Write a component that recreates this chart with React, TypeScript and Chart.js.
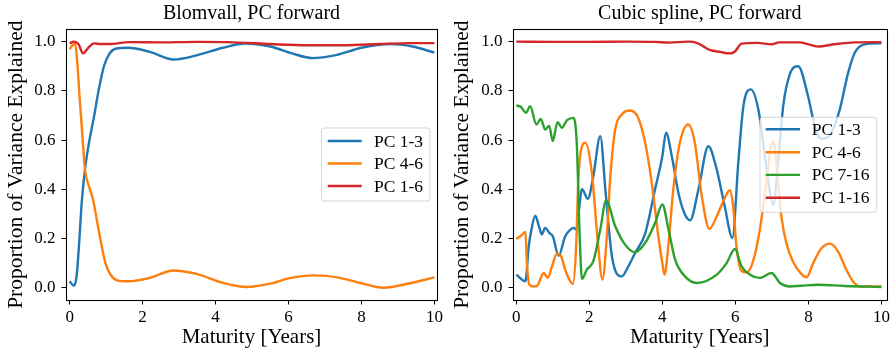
import React, { useEffect, useRef } from "react";
import { Chart, registerables } from "chart.js";

Chart.register(...registerables);

const FONT = "'Liberation Serif', 'DejaVu Serif', serif";

// ---------- Left panel: Blomvall, PC forward ----------
const leftTitle = "Blomvall, PC forward";
const blomPC13X = [0, 0.12, 0.19, 0.26, 0.33, 0.42, 0.53, 0.67, 0.8, 0.94, 1.08, 1.26, 1.6, 2.2, 2.85, 3.5, 4.2, 4.8, 5.5, 6.1, 6.65, 7.3, 8.0, 8.8, 9.4, 10];
const blomPC13Y = [0.026, 0.008, 0.046, 0.18, 0.345, 0.48, 0.589, 0.697, 0.806, 0.9, 0.948, 0.971, 0.975, 0.958, 0.927, 0.945, 0.975, 0.992, 0.98, 0.952, 0.933, 0.945, 0.975, 0.99, 0.98, 0.955];
const blomPC46X = [0, 0.08, 0.15, 0.21, 0.27, 0.35, 0.42, 0.53, 0.64, 0.76, 0.88, 0.98, 1.12, 1.3, 1.62, 2.2, 2.85, 3.5, 4.2, 4.85, 5.6, 6.0, 6.7, 7.4, 8.0, 8.6, 9.3, 10];
const blomPC46Y = [0.969, 0.985, 0.993, 0.914, 0.78, 0.616, 0.48, 0.412, 0.358, 0.263, 0.168, 0.1, 0.053, 0.03, 0.026, 0.04, 0.07, 0.055, 0.02, 0.003, 0.02, 0.038, 0.05, 0.04, 0.018, 0.0, 0.017, 0.042];
const blomPC16X = [0, 0.12, 0.24, 0.37, 0.51, 0.67, 0.85, 1.1, 1.62, 2.5, 3.5, 4.5, 5.5, 6.5, 7.5, 8.5, 9.3, 10];
const blomPC16Y = [0.993, 1.0, 0.99, 0.952, 0.975, 0.993, 0.99, 0.99, 0.998, 0.997, 0.999, 0.997, 0.99, 0.985, 0.985, 0.99, 0.994, 0.994];

// ---------- Right panel: Cubic spline, PC forward ----------
const rightTitle = "Cubic spline, PC forward";
const splPC13X = [0, 0.25, 0.34, 0.42, 0.52, 0.62, 0.7, 0.79, 0.91, 1.0, 1.16, 1.34, 1.48, 1.57, 1.64, 1.8, 1.96, 2.11, 2.3, 2.45, 2.62, 2.89, 3.07, 3.25, 3.53, 3.8, 4.0, 4.1, 4.26, 4.44, 4.62, 4.76, 4.99, 5.26, 5.49, 5.71, 5.92, 6.08, 6.22, 6.42, 6.63, 6.81, 6.95, 7.04, 7.17, 7.31, 7.49, 7.72, 7.99, 8.13, 8.27, 8.4, 8.63, 8.86, 9.09, 9.27, 9.54, 10];
const splPC13Y = [0.053, 0.026, 0.168, 0.24, 0.293, 0.25, 0.216, 0.243, 0.222, 0.209, 0.13, 0.209, 0.236, 0.243, 0.236, 0.4, 0.361, 0.453, 0.616, 0.38, 0.127, 0.046, 0.087, 0.14, 0.22, 0.4, 0.534, 0.63, 0.534, 0.385, 0.297, 0.274, 0.4, 0.575, 0.48, 0.33, 0.202, 0.507, 0.738, 0.806, 0.724, 0.534, 0.385, 0.338, 0.507, 0.738, 0.867, 0.9, 0.779, 0.684, 0.616, 0.605, 0.63, 0.724, 0.874, 0.955, 0.989, 0.993];
const splPC46X = [0, 0.12, 0.25, 0.29, 0.36, 0.47, 0.57, 0.75, 0.86, 0.98, 1.11, 1.22, 1.34, 1.48, 1.55, 1.64, 1.7, 1.8, 1.89, 2.07, 2.22, 2.36, 2.48, 2.57, 2.71, 2.89, 3.12, 3.34, 3.53, 3.71, 3.89, 4.0, 4.06, 4.17, 4.3, 4.48, 4.71, 4.89, 5.08, 5.29, 5.49, 5.71, 5.85, 5.94, 6.03, 6.15, 6.31, 6.49, 6.67, 6.86, 6.96, 7.04, 7.14, 7.26, 7.4, 7.58, 7.81, 7.95, 8.13, 8.36, 8.59, 8.81, 9.04, 9.22, 9.41, 10];
const splPC46Y = [0.198, 0.21, 0.227, 0.1, 0.012, 0.005, 0.007, 0.06, 0.04, 0.087, 0.138, 0.13, 0.073, 0.026, 0.015, 0.168, 0.44, 0.575, 0.589, 0.467, 0.209, 0.033, 0.209, 0.44, 0.643, 0.704, 0.72, 0.69, 0.589, 0.426, 0.209, 0.1, 0.053, 0.18, 0.4, 0.589, 0.663, 0.589, 0.372, 0.239, 0.29, 0.365, 0.396, 0.33, 0.168, 0.073, 0.062, 0.11, 0.236, 0.44, 0.56, 0.596, 0.48, 0.29, 0.18, 0.105, 0.055, 0.042, 0.1, 0.16, 0.179, 0.148, 0.073, 0.026, 0.005, 0.005];
const splPC716X = [0, 0.12, 0.27, 0.38, 0.55, 0.67, 0.79, 0.9, 1.0, 1.13, 1.25, 1.39, 1.57, 1.66, 1.73, 1.8, 1.93, 2.11, 2.3, 2.46, 2.71, 2.98, 3.25, 3.53, 3.8, 4.0, 4.17, 4.35, 4.62, 4.95, 5.49, 5.76, 5.99, 6.17, 6.4, 6.67, 6.99, 7.22, 7.49, 7.8, 8.27, 9.0, 10];
const splPC716Y = [0.741, 0.735, 0.711, 0.738, 0.663, 0.686, 0.643, 0.657, 0.596, 0.673, 0.65, 0.681, 0.69, 0.575, 0.236, 0.035, 0.073, 0.108, 0.236, 0.355, 0.25, 0.175, 0.144, 0.182, 0.263, 0.338, 0.236, 0.114, 0.046, 0.019, 0.053, 0.1, 0.157, 0.087, 0.053, 0.04, 0.06, 0.019, 0.005, 0.008, 0.012, 0.007, 0.003];
const splPC116X = [0, 1, 2, 3, 3.8, 4.2, 4.7, 4.85, 5.03, 5.3, 5.58, 5.85, 5.99, 6.17, 6.6, 6.99, 7.2, 7.77, 7.9, 8.27, 8.72, 9.27, 10];
const splPC116Y = [1.0, 0.999, 0.999, 1.0, 0.999, 0.996, 1.0, 0.999, 0.989, 0.966, 0.958, 0.952, 0.96, 0.992, 0.995, 0.989, 0.997, 0.997, 0.993, 0.98, 0.989, 0.997, 0.998];

const xTicks = [0, 2, 4, 6, 8, 10];
const yTicks = [0, 0.2, 0.4, 0.6, 0.8, 1.0];
const xLabel = "Maturity [Years]";
const yLabel = "Proportion of Variance Explained";

const BLUE = "#1f77b4";
const ORANGE = "#ff7f0e";
const GREEN = "#2ca02c";
const RED = "#d62728";

type Series = { label: string; color: string; xs: number[]; ys: number[] };

type PanelProps = {
  title: string;
  series: Series[];
  width: number;
  left: number;
  yAxisWidth: number;
  padRight: number;
  xMin: number;
  xMax: number;
  legend: { x: number; y: number; w: number; h: number; l0: number; l1: number; tx: number; rows: number[] };
};

function Panel(p: PanelProps) {
  const ref = useRef<HTMLCanvasElement | null>(null);
  useEffect(() => {
    const canvas = ref.current;
    if (!canvas) return;
    const framePlugin = {
      id: "frame",
      afterDatasetsDraw(chart: any) {
        const { ctx, chartArea: a } = chart;
        ctx.save();
        ctx.strokeStyle = "#000";
        ctx.lineWidth = 1.1;
        ctx.strokeRect(Math.round(a.left) + 0.5, Math.round(a.top) + 0.5, Math.round(a.right - a.left), Math.round(a.bottom - a.top));
        ctx.restore();
      },
    };
    const legendPlugin = {
      id: "boxLegend",
      afterDatasetsDraw(chart: any) {
        const ctx = chart.ctx;
        const L = p.legend;
        ctx.save();
        const r = 3;
        ctx.beginPath();
        ctx.moveTo(L.x + r, L.y);
        ctx.lineTo(L.x + L.w - r, L.y);
        ctx.arcTo(L.x + L.w, L.y, L.x + L.w, L.y + r, r);
        ctx.lineTo(L.x + L.w, L.y + L.h - r);
        ctx.arcTo(L.x + L.w, L.y + L.h, L.x + L.w - r, L.y + L.h, r);
        ctx.lineTo(L.x + r, L.y + L.h);
        ctx.arcTo(L.x, L.y + L.h, L.x, L.y + L.h - r, r);
        ctx.lineTo(L.x, L.y + r);
        ctx.arcTo(L.x, L.y, L.x + r, L.y, r);
        ctx.closePath();
        ctx.fillStyle = "rgba(255,255,255,0.8)";
        ctx.fill();
        ctx.strokeStyle = "rgba(204,204,204,0.8)";
        ctx.lineWidth = 1;
        ctx.stroke();
        ctx.font = `17.5px ${FONT}`;
        ctx.textBaseline = "middle";
        ctx.textAlign = "left";
        p.series.forEach((s, i) => {
          const y = L.rows[i];
          ctx.beginPath();
          ctx.moveTo(L.l0, y);
          ctx.lineTo(L.l1, y);
          ctx.strokeStyle = s.color;
          ctx.lineWidth = 2.4;
          ctx.stroke();
          ctx.fillStyle = "#000";
          ctx.fillText(s.label, L.tx, y + 1);
        });
        ctx.restore();
      },
    };
    const n = p.series.length;
    const chart = new Chart(canvas, {
      type: "line",
      data: {
        datasets: p.series.map((s, i) => ({
          label: s.label,
          data: s.xs.map((x, j) => ({ x, y: s.ys[j] })),
          borderColor: s.color,
          backgroundColor: s.color,
          borderWidth: 2.4,
          pointRadius: 0,
          fill: false,
          cubicInterpolationMode: "monotone" as const,
          order: n - i,
        })),
      },
      options: {
        animation: false,
        responsive: false,
        devicePixelRatio: 1,
        layout: { padding: { left: 0, right: p.padRight, top: 0, bottom: 0 } },
        plugins: {
          legend: { display: false },
          tooltip: { enabled: false },
          title: {
            display: true,
            fullSize: false,
            text: p.title,
            color: "#000",
            font: { family: FONT, size: 20, weight: "normal", lineHeight: 1.2 },
            padding: { top: 2, bottom: 3.3 },
          },
        },
        scales: {
          x: {
            type: "linear",
            min: p.xMin,
            max: p.xMax,
            afterBuildTicks: (s: any) => {
              s.ticks = xTicks.map((v) => ({ value: v }));
            },
            afterFit: (s: any) => {
              s.height = 54;
            },
            ticks: {
              color: "#000",
              font: { family: FONT, size: 17 },
              padding: 3,
              maxRotation: 0,
              autoSkip: false,
              callback: (v: any) => String(v),
            },
            grid: { drawOnChartArea: false, drawTicks: true, tickLength: 4.5, tickColor: "#000", tickWidth: 1 },
            border: { display: false },
            title: {
              display: true,
              text: xLabel,
              color: "#000",
              font: { family: FONT, size: 21, lineHeight: 1.2 },
              padding: { top: 0, bottom: 3.5 },
            },
          },
          y: {
            type: "linear",
            min: -0.05,
            max: 1.05,
            afterBuildTicks: (s: any) => {
              s.ticks = yTicks.map((v) => ({ value: v }));
            },
            afterFit: (s: any) => {
              s.width = p.yAxisWidth;
            },
            ticks: {
              color: "#000",
              font: { family: FONT, size: 17 },
              padding: 6,
              callback: (v: any) => Number(v).toFixed(1),
            },
            grid: { drawOnChartArea: false, drawTicks: true, tickLength: 4.5, tickColor: "#000", tickWidth: 1 },
            border: { display: false },
            title: {
              display: true,
              text: yLabel,
              color: "#000",
              font: { family: FONT, size: 21.5, lineHeight: 1.2 },
              padding: { top: 3, bottom: 0 },
            },
          },
        },
      },
      plugins: [framePlugin, legendPlugin],
    } as any);
    return () => chart.destroy();
  }, []);
  return (
    <canvas
      ref={ref}
      width={p.width}
      height={354}
      style={{ position: "absolute", left: p.left, top: 0, width: p.width, height: 354 }}
    />
  );
}

export default function App() {
  const leftSeries: Series[] = [
    { label: "PC 1-3", color: BLUE, xs: blomPC13X, ys: blomPC13Y },
    { label: "PC 4-6", color: ORANGE, xs: blomPC46X, ys: blomPC46Y },
    { label: "PC 1-6", color: RED, xs: blomPC16X, ys: blomPC16Y },
  ];
  const rightSeries: Series[] = [
    { label: "PC 1-3", color: BLUE, xs: splPC13X, ys: splPC13Y },
    { label: "PC 4-6", color: ORANGE, xs: splPC46X, ys: splPC46Y },
    { label: "PC 7-16", color: GREEN, xs: splPC716X, ys: splPC716Y },
    { label: "PC 1-16", color: RED, xs: splPC116X, ys: splPC116Y },
  ];
  return (
    <div style={{ position: "fixed", left: 0, top: 0, width: 893, height: 354, background: "#fff" }}>
      <Panel
        title={leftTitle}
        series={leftSeries}
        width={446}
        left={0}
        yAxisWidth={66}
        padRight={8}
        xMin={-0.1}
        xMax={10.07}
        legend={{ x: 321.5, y: 128, w: 108.5, h: 73, l0: 327.7, l1: 361.7, tx: 374, rows: [141, 163.5, 186] }}
      />
      <Panel
        title={rightTitle}
        series={rightSeries}
        width={447}
        left={446}
        yAxisWidth={67}
        padRight={6}
        xMin={-0.09}
        xMax={10.14}
        legend={{ x: 314, y: 117.3, w: 116.7, h: 95, l0: 319.7, l1: 354, tx: 365.7, rows: [129.3, 152.3, 174.9, 197.7] }}
      />
    </div>
  );
}
